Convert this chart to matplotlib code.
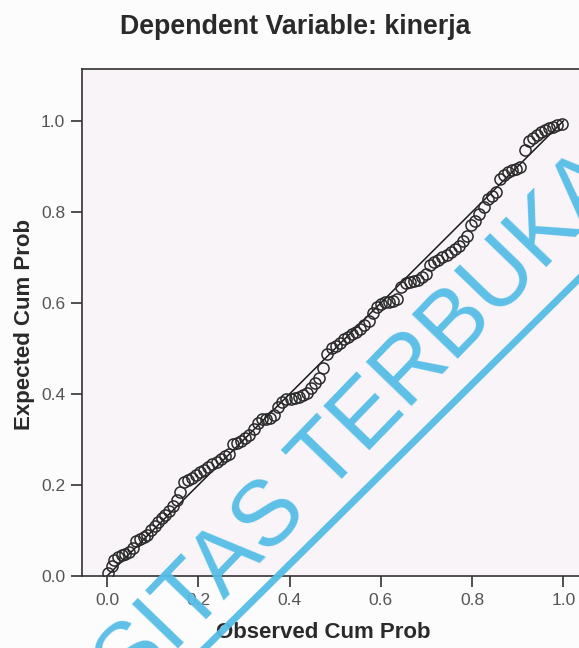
import numpy as np
import matplotlib.pyplot as plt
from matplotlib.lines import Line2D

plt.rcParams['font.family'] = ['Liberation Sans', 'DejaVu Sans']

# Observed vs expected cumulative probability
observed = [0.003, 0.010, 0.016, 0.024, 0.032, 0.040, 0.048, 0.056, 0.064, 0.072,
            0.080, 0.088, 0.096, 0.104, 0.112, 0.120, 0.128, 0.136, 0.145, 0.153,
            0.160, 0.168, 0.177, 0.186, 0.195, 0.204, 0.213, 0.222, 0.231, 0.240,
            0.249, 0.258, 0.267, 0.276, 0.285, 0.294, 0.303, 0.312, 0.321, 0.330,
            0.339, 0.348, 0.357, 0.366, 0.375, 0.384, 0.393, 0.402, 0.411, 0.420,
            0.429, 0.438, 0.447, 0.456, 0.465, 0.474, 0.483, 0.492, 0.501, 0.510,
            0.519, 0.528, 0.537, 0.546, 0.555, 0.564, 0.573, 0.582, 0.591, 0.600,
            0.609, 0.618, 0.627, 0.636, 0.645, 0.654, 0.663, 0.672, 0.681, 0.690,
            0.699, 0.708, 0.717, 0.726, 0.735, 0.744, 0.753, 0.762, 0.771, 0.780,
            0.789, 0.798, 0.807, 0.816, 0.825, 0.834, 0.843, 0.852, 0.861, 0.870,
            0.879, 0.888, 0.897, 0.906, 0.915, 0.924, 0.933, 0.942, 0.951, 0.960,
            0.969, 0.978, 0.987, 0.996]
expected = [0.006, 0.022, 0.036, 0.042, 0.046, 0.048, 0.053, 0.062, 0.076, 0.082,
            0.086, 0.091, 0.101, 0.110, 0.119, 0.127, 0.133, 0.142, 0.154, 0.168,
            0.185, 0.207, 0.211, 0.216, 0.222, 0.228, 0.234, 0.240, 0.245, 0.250,
            0.257, 0.264, 0.268, 0.290, 0.293, 0.296, 0.303, 0.310, 0.322, 0.337,
            0.346, 0.346, 0.348, 0.354, 0.372, 0.383, 0.388, 0.390, 0.392, 0.393,
            0.398, 0.402, 0.412, 0.425, 0.436, 0.458, 0.488, 0.500, 0.506, 0.512,
            0.520, 0.526, 0.531, 0.536, 0.543, 0.551, 0.560, 0.578, 0.590, 0.597,
            0.601, 0.603, 0.605, 0.609, 0.634, 0.644, 0.647, 0.649, 0.651, 0.656,
            0.664, 0.684, 0.690, 0.695, 0.700, 0.705, 0.712, 0.719, 0.726, 0.736,
            0.748, 0.772, 0.781, 0.795, 0.811, 0.829, 0.836, 0.843, 0.872, 0.880,
            0.887, 0.891, 0.895, 0.899, 0.935, 0.955, 0.963, 0.970, 0.976, 0.980,
            0.984, 0.987, 0.990, 0.993]
ticks = [0.0, 0.2, 0.4, 0.6, 0.8, 1.0]
tick_labels = ['0.0', '0.2', '0.4', '0.6', '0.8', '1.0']

W, H = 579, 648
fig = plt.figure(figsize=(W / 100, H / 100), dpi=100)
fig.patch.set_facecolor('#fcfcfc')

# axes box runs past the right edge of the picture, as in the original
ax = fig.add_axes([82 / W, 72 / H, 527 / W, 507 / H])
ax.set_facecolor('#f8f4f8')
ax.set_xlim(-0.055, 1.10)
ax.set_ylim(0, 1.114)

ax.plot([0, 1], [0, 1], color='#1a1a1a', lw=1.1, zorder=2)
ax.plot(observed, expected, 'o', ms=8, mfc='none', mec='#2a2a2a', mew=1.1, zorder=3)

ax.set_xticks(ticks)
ax.set_xticklabels(tick_labels)
ax.set_yticks(ticks)
ax.set_yticklabels(tick_labels)
ax.tick_params(direction='out', length=8, width=1.2, color='#333333',
               labelcolor='#555555', labelsize=12.5, pad=4)
for s in ax.spines.values():
    s.set_color('#333333')
    s.set_linewidth(1.2)

fig.text(295 / W, 1 - 27 / H, 'Dependent Variable: kinerja', ha='center', va='center',
         fontsize=19.3, fontweight='bold', color='#2a2a2a')
fig.text(323 / W, 1 - 632 / H, 'Observed Cum Prob', ha='center', va='center',
         fontsize=16, fontweight='bold', color='#2a2a2a')
fig.text(25 / W, 1 - 325 / H, 'Expected Cum Prob', ha='center', va='center',
         rotation=90, fontsize=16, fontweight='bold', color='#2a2a2a')

# watermark
wm = '#55bde6'
fig.text(130 / W, 1 - 698 / H, 'SITAS TERBUKA', rotation=46, rotation_mode='anchor',
         ha='left', va='baseline', fontsize=66, color=wm, alpha=0.95, zorder=10)
fig.add_artist(Line2D([205 / W, 610 / W], [1 - 648 / H, 1 - 248 / H], color=wm,
                      lw=5, alpha=0.95, zorder=10))

fig.savefig('out.png', dpi=100, facecolor=fig.get_facecolor())
